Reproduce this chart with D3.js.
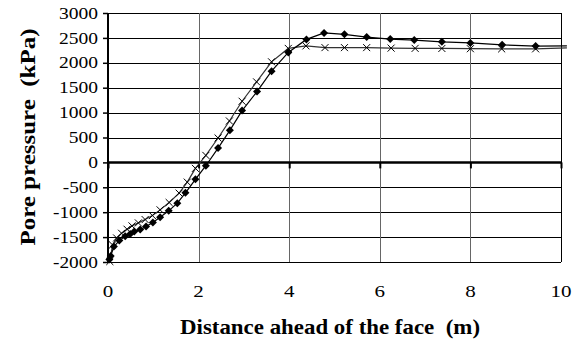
<!DOCTYPE html>
<html>
<head>
<meta charset="utf-8">
<script src="https://cdn.jsdelivr.net/npm/d3@7"></script>
<style>
  body { margin: 0; background: #fff; }
  svg text { font-family: "Liberation Serif", "Times New Roman", serif; fill: #000; white-space: pre; }
</style>
</head>
<body>
<div id="chart"></div>
<script>
// Data
var diamondDist = [0.03, 0.06, 0.13, 0.25, 0.38, 0.49, 0.58, 0.71, 0.84, 0.99, 1.15, 1.34, 1.53, 1.71, 1.93,
  2.16, 2.43, 2.69, 2.96, 3.29, 3.61, 3.98, 4.38, 4.77, 5.22, 5.71, 6.23, 6.76, 7.37, 8.0, 8.7, 9.44, 10.13];
var diamondPressure = [-1950, -1880, -1690, -1570, -1483, -1436, -1389, -1349, -1289, -1208, -1100, -973, -819, -611, -340,
  -67, 288, 644, 1040, 1423, 1832, 2208, 2470, 2600, 2571, 2517, 2476, 2456, 2422, 2400, 2360, 2335, 2340];

var crossDist = [0.04, 0.1, 0.19, 0.3, 0.42, 0.53, 0.67, 0.82, 0.98, 1.15, 1.35, 1.57, 1.75, 1.93,
  2.16, 2.43, 2.68, 2.96, 3.28, 3.61, 3.98, 4.37, 4.79, 5.22, 5.71, 6.25, 6.78, 7.37, 8.0, 8.69, 9.44, 10.13];
var crossPressure = [-1990, -1657, -1517, -1423, -1342, -1275, -1215, -1148, -1067, -953, -805, -617, -396, -120,
  141, 490, 832, 1228, 1617, 2020, 2289, 2340, 2305, 2305, 2305, 2295, 2290, 2288, 2283, 2280, 2280, 2300];

var xTicks = [0, 2, 4, 6, 8, 10];
var yTicks = [-2000, -1500, -1000, -500, 0, 500, 1000, 1500, 2000, 2500, 3000];

var serif = "'Liberation Serif', 'Times New Roman', serif";

var svgWidth = 580;
var svgHeight = 349;
var margin = { top: 13, right: 19, bottom: 87, left: 108 };
var width = svgWidth - margin.left - margin.right;
var height = svgHeight - margin.top - margin.bottom;

var svg = d3.select("#chart")
  .append("svg")
  .attr("width", svgWidth)
  .attr("height", svgHeight);

svg.append("rect").attr("width", svgWidth).attr("height", svgHeight).attr("fill", "#fff");

var chartGroup = svg.append("g")
  .attr("transform", `translate(${margin.left}, ${margin.top})`);

var x = d3.scaleLinear().domain([0, 10]).range([0, width]);
var y = d3.scaleLinear().domain([-2000, 3000]).range([height, 0]);

// horizontal gridlines
chartGroup.selectAll(".hgrid")
  .data(yTicks)
  .enter().append("line")
  .attr("x1", 0).attr("x2", width)
  .attr("y1", d => Math.round(y(d)) + 0.5).attr("y2", d => Math.round(y(d)) + 0.5)
  .attr("stroke", "#000").attr("stroke-width", 1);

// vertical gridlines
chartGroup.selectAll(".vgrid")
  .data(xTicks.slice(1))
  .enter().append("line")
  .attr("x1", d => Math.round(x(d)) + 0.5).attr("x2", d => Math.round(x(d)) + 0.5)
  .attr("y1", 0).attr("y2", height)
  .attr("stroke", d => d === 10 ? "#000" : "#666").attr("stroke-width", 1);

// y axis
var leftAxis = d3.axisLeft(y).tickValues(yTicks).tickSize(5).tickPadding(5).tickFormat(d => String(d));
var yAxis = chartGroup.append("g").call(leftAxis)
  .attr("font-family", serif)
  .attr("font-size", 16);
yAxis.select(".domain").attr("stroke-width", 2).attr("d", `M0,${height + 1}V0`);
yAxis.selectAll(".tick line").attr("stroke-width", 1.5);
yAxis.selectAll(".tick text")
  .style("font-family", serif)
  .attr("textLength", d => String(Math.abs(d)).length * 9.75 + (d < 0 ? 6 : 0))
  .attr("lengthAdjust", "spacingAndGlyphs");

// x axis at zero
var bottomAxis = d3.axisBottom(x).tickValues(xTicks).tickSize(6).tickFormat(() => "");
var xAxis = chartGroup.append("g")
  .attr("transform", `translate(0, ${y(0)})`)
  .call(bottomAxis);
xAxis.select(".domain").attr("stroke-width", 2.5).attr("d", `M0,0H${width}`);
xAxis.selectAll(".tick line").attr("stroke-width", 2);

// x tick labels along the bottom
chartGroup.selectAll(".xlab")
  .data(xTicks)
  .enter().append("text")
  .attr("x", d => x(d))
  .attr("y", height + 35)
  .attr("text-anchor", "middle")
  .attr("textLength", d => String(d).length * 10.5)
  .attr("lengthAdjust", "spacingAndGlyphs")
  .style("font-family", serif)
  .style("font-size", "17px")
  .text(d => d);

// lines
var line = d3.line().x(d => x(d[0])).y(d => y(d[1]));
var diamonds = diamondDist.map((d, i) => [d, diamondPressure[i]]);
var crosses = crossDist.map((d, i) => [d, crossPressure[i]]);

chartGroup.append("path")
  .datum(crosses)
  .attr("d", line)
  .attr("fill", "none").attr("stroke", "#333").attr("stroke-width", 1.2);

chartGroup.append("path")
  .datum(diamonds)
  .attr("d", line)
  .attr("fill", "none").attr("stroke", "#000").attr("stroke-width", 1.2);

// markers (only inside the plot)
var crossSymbol = d3.symbol().type(d3.symbolX).size(34);
chartGroup.selectAll(".cross")
  .data(crosses.filter(d => d[0] <= 10))
  .enter().append("path")
  .attr("transform", d => `translate(${x(d[0])}, ${y(d[1])})`)
  .attr("d", crossSymbol)
  .attr("fill", "none").attr("stroke", "#000").attr("stroke-width", 1);

var diamondSymbol = d3.symbol().type(d3.symbolSquare).size(32);
chartGroup.selectAll(".diamond")
  .data(diamonds.filter(d => d[0] <= 10))
  .enter().append("path")
  .attr("transform", d => `translate(${x(d[0])}, ${y(d[1])}) rotate(45)`)
  .attr("d", diamondSymbol)
  .attr("fill", "#000");

// axis titles
svg.append("text")
  .attr("x", 330)
  .attr("y", 334)
  .attr("text-anchor", "middle")
  .attr("textLength", 300)
  .attr("lengthAdjust", "spacingAndGlyphs")
  .style("font-family", serif)
  .style("font-size", "22px")
  .style("font-weight", "bold")
  .text("Distance ahead of the face  (m)");

svg.append("text")
  .attr("transform", "translate(35, 137) rotate(-90)")
  .attr("text-anchor", "middle")
  .attr("textLength", 217)
  .attr("lengthAdjust", "spacingAndGlyphs")
  .style("font-family", serif)
  .style("font-size", "22px")
  .style("font-weight", "bold")
  .text("Pore pressure  (kPa)");
</script>
</body>
</html>
